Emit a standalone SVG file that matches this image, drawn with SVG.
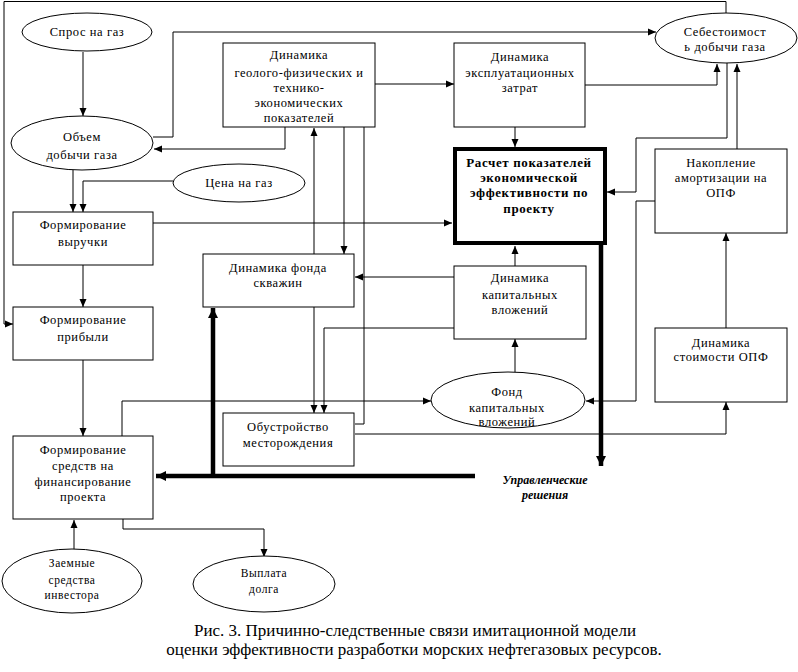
<svg xmlns="http://www.w3.org/2000/svg" width="798" height="672" viewBox="0 0 798 672">
<defs>
<style>
.n{fill:#fff;stroke:#000;stroke-width:1}
.b{fill:#fff;stroke:#000;stroke-width:4}
.t{font-family:"Liberation Serif","Times New Roman",serif;font-size:12.5px;letter-spacing:0.6px;text-anchor:middle;fill:#000}
.tb{font-family:"Liberation Serif","Times New Roman",serif;font-size:13px;font-weight:bold;letter-spacing:0.6px;text-anchor:middle;fill:#000}
.ti{font-family:"Liberation Serif","Times New Roman",serif;font-size:12px;font-weight:bold;font-style:italic;text-anchor:middle;fill:#000}
.cap{font-family:"Liberation Serif","Times New Roman",serif;font-size:17px;text-anchor:middle;fill:#000}
.c{fill:none;stroke:#000;stroke-width:1}
.k{fill:none;stroke:#000;stroke-width:4.5}
</style>
<marker id="a" markerUnits="userSpaceOnUse" markerWidth="10" markerHeight="10" viewBox="0 0 10 10" refX="9" refY="5" orient="auto">
<path d="M1,1.5 L9,5 L1,8.5 Z" fill="#000"/>
</marker>
<marker id="ak" markerUnits="userSpaceOnUse" markerWidth="12" markerHeight="12" viewBox="0 0 12 12" refX="11" refY="6" orient="auto">
<path d="M1,1 L11,6 L1,11 Z" fill="#000"/>
</marker>
</defs>
<rect width="798" height="672" fill="#fff"/>

<g id="connectors">
<path class="c" d="M83,52 V116" marker-end="url(#a)"/>
<path class="c" d="M153,137 H173 V32 H656" marker-end="url(#a)"/>
<path class="c" d="M285,127 V149 H154" marker-end="url(#a)"/>
<path class="c" d="M375,84 H454" marker-end="url(#a)"/>
<path class="c" d="M585,85 H717 V64" marker-end="url(#a)"/>
<path class="c" d="M727,63 V138 H636 V192 H607" marker-end="url(#a)"/>
<path class="c" d="M737,149 V64" marker-end="url(#a)"/>
<path class="c" d="M515,127 V147" marker-end="url(#a)"/>
<path class="c" d="M73,170 V212" marker-end="url(#a)"/>
<path class="c" d="M173,181 H83 V212" marker-end="url(#a)"/>
<path class="c" d="M153,223 H452" marker-end="url(#a)"/>
<path class="c" d="M314,254 V128" marker-end="url(#a)"/>
<path class="c" d="M344,127 V254" marker-end="url(#a)"/>
<path class="c" d="M364,127 V424 H355"/>
<path class="c" d="M454,277 H355" marker-end="url(#a)"/>
<path class="c" d="M454,328 H324 V413" marker-end="url(#a)"/>
<path class="c" d="M314,307 V413" marker-end="url(#a)"/>
<path class="c" d="M83,265 V307" marker-end="url(#a)"/>
<path class="c" d="M726,13 V1.5 H4 V324 H13" marker-end="url(#a)"/>
<path class="c" d="M83,360 V436" marker-end="url(#a)"/>
<path class="c" d="M122,436 V401 H431" marker-end="url(#a)"/>
<path class="c" d="M655,201 H636 V401 H586" marker-end="url(#a)"/>
<path class="c" d="M515,372 V339" marker-end="url(#a)"/>
<path class="c" d="M515,266 V246" marker-end="url(#a)"/>
<path class="c" d="M726,328 V233" marker-end="url(#a)"/>
<path class="c" d="M355,434 H726 V402" marker-end="url(#a)"/>
<path class="c" d="M74,550 V520" marker-end="url(#a)"/>
<path class="c" d="M123,519 V529 H264 V557" marker-end="url(#a)"/>
<path class="k" d="M475,476 H156" marker-end="url(#ak)"/>
<path class="k" d="M213,476 V308" marker-end="url(#ak)"/>
<path class="k" d="M601,245 V466" marker-end="url(#ak)"/>
</g>

<g id="spros">
<ellipse class="n" cx="87" cy="32" rx="65" ry="19"/>
<text class="t" x="87" y="36">Спрос на газ</text>
</g>
<g id="obem">
<ellipse class="n" cx="82" cy="143" rx="71" ry="27"/>
<text class="t" x="82" y="141">Объем</text>
<text class="t" x="82" y="159">добычи газа</text>
</g>
<g id="geolog">
<rect class="n" x="223" y="43" width="152" height="84"/>
<text class="t" x="299" y="59">Динамика</text>
<text class="t" x="299" y="77">геолого-физических и</text>
<text class="t" x="299" y="92">технико-</text>
<text class="t" x="299" y="107">экономических</text>
<text class="t" x="299" y="122">показателей</text>
</g>
<g id="expl">
<rect class="n" x="454" y="43" width="131" height="84"/>
<text class="t" x="520" y="61">Динамика</text>
<text class="t" x="520" y="77">эксплуатационных</text>
<text class="t" x="520" y="92">затрат</text>
</g>
<g id="sebest">
<ellipse class="n" cx="726" cy="38" rx="71" ry="25"/>
<text class="t" x="725" y="36">Себестоимост</text>
<text class="t" x="725" y="51">ь добычи газа</text>
</g>
<g id="raschet">
<rect class="b" x="455" y="149" width="150" height="94"/>
<text class="tb" x="529" y="167">Расчет показателей</text>
<text class="tb" x="529" y="182">экономической</text>
<text class="tb" x="529" y="197">эффективности по</text>
<text class="tb" x="529" y="213">проекту</text>
</g>
<g id="nakop">
<rect class="n" x="655" y="149" width="132" height="84"/>
<text class="t" x="721" y="167">Накопление</text>
<text class="t" x="721" y="182">амортизации на</text>
<text class="t" x="721" y="197">ОПФ</text>
</g>
<g id="cena">
<ellipse class="n" cx="239" cy="183" rx="66" ry="19"/>
<text class="t" x="239" y="187">Цена на газ</text>
</g>
<g id="vyruchka">
<rect class="n" x="13" y="212" width="140" height="53"/>
<text class="t" x="83" y="229">Формирование</text>
<text class="t" x="83" y="246">выручки</text>
</g>
<g id="fondskv">
<rect class="n" x="203" y="254" width="151" height="53"/>
<text class="t" x="278" y="272">Динамика фонда</text>
<text class="t" x="278" y="287">скважин</text>
</g>
<g id="kapvl">
<rect class="n" x="454" y="266" width="132" height="73"/>
<text class="t" x="520" y="282">Динамика</text>
<text class="t" x="520" y="299">капитальных</text>
<text class="t" x="520" y="314">вложений</text>
</g>
<g id="pribyl">
<rect class="n" x="13" y="307" width="140" height="53"/>
<text class="t" x="83" y="324">Формирование</text>
<text class="t" x="83" y="341">прибыли</text>
</g>
<g id="stopf">
<rect class="n" x="655" y="328" width="132" height="74"/>
<text class="t" x="721" y="347">Динамика</text>
<text class="t" x="721" y="361">стоимости ОПФ</text>
</g>
<g id="fondkap">
<ellipse class="n" cx="508" cy="400" rx="77" ry="28"/>
<text class="t" x="507" y="396">Фонд</text>
<text class="t" x="507" y="412">капитальных</text>
<text class="t" x="507" y="426">вложений</text>
</g>
<g id="obustr">
<rect class="n" x="223" y="413" width="131" height="53"/>
<text class="t" x="288" y="431">Обустройство</text>
<text class="t" x="288" y="447">месторождения</text>
</g>
<g id="sredstva">
<rect class="n" x="13" y="436" width="140" height="83"/>
<text class="t" x="83" y="454">Формирование</text>
<text class="t" x="83" y="470">средств на</text>
<text class="t" x="83" y="486">финансирование</text>
<text class="t" x="83" y="501">проекта</text>
</g>
<g id="upr">
<text class="ti" x="545" y="484">Управленческие</text>
<text class="ti" x="545" y="499">решения</text>
</g>
<g id="zaem">
<ellipse class="n" cx="72" cy="581" rx="70" ry="32"/>
<text class="t" x="72" y="567" style="font-size:11.5px">Заемные</text>
<text class="t" x="72" y="584" style="font-size:11.5px">средства</text>
<text class="t" x="72" y="599" style="font-size:11.5px">инвестора</text>
</g>
<g id="vyplata">
<ellipse class="n" cx="264" cy="584" rx="71" ry="28"/>
<text class="t" x="264" y="577" style="font-size:11.5px">Выплата</text>
<text class="t" x="264" y="593" style="font-size:11.5px">долга</text>
</g>
<g id="caption">
<text class="cap" x="415" y="636">Рис. 3. Причинно-следственные связи имитационной модели</text>
<text class="cap" x="414" y="655">оценки эффективности разработки морских нефтегазовых ресурсов.</text>
</g>
</svg>
